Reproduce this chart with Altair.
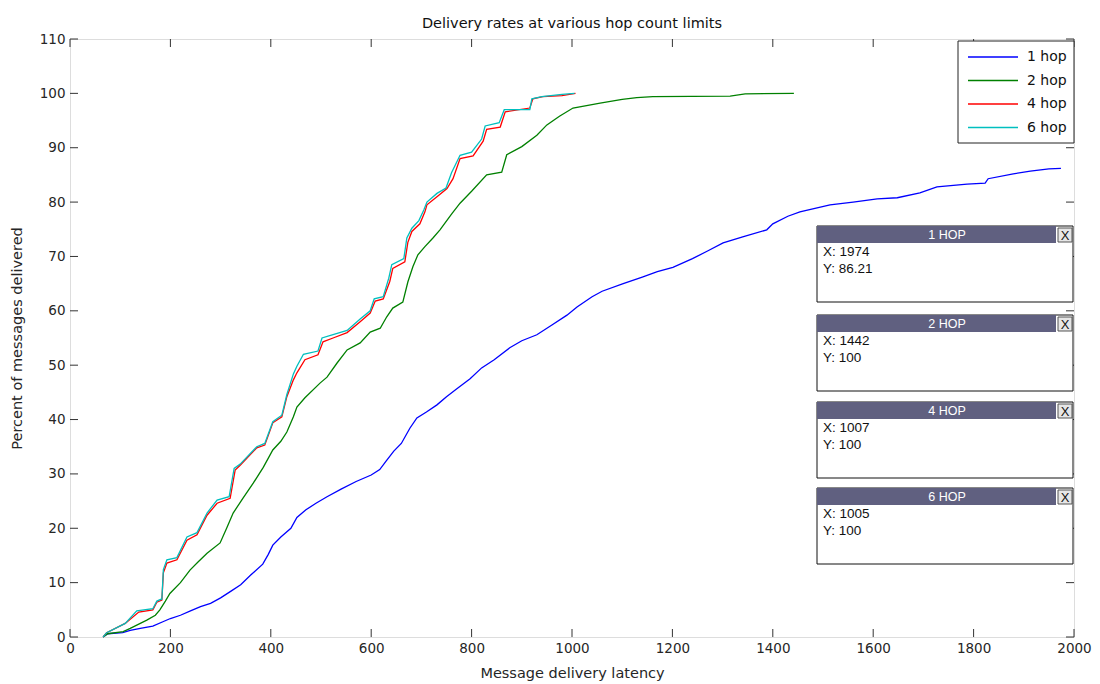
import altair as alt
import pandas as pd

# ---------------- data ----------------
series_names = ["1 hop", "2 hop", "4 hop", "6 hop"]
series_colors = ["#0000ff", "#008000", "#ff0000", "#00bfbf"]

hop1_x = [66, 75, 105, 120, 140, 165, 185, 200, 220, 240, 260, 280, 300, 320, 340, 360, 384, 395, 404,
          420, 440, 452, 470, 490, 512, 540, 570, 600, 617, 630, 645, 660, 677, 691, 710, 731, 750, 770,
          797, 820, 845, 876, 900, 930, 960, 990, 1010, 1040, 1060, 1102, 1140, 1170, 1201, 1240, 1270,
          1301, 1340, 1388, 1400, 1430, 1454, 1514, 1560, 1608, 1648, 1693, 1727, 1787, 1823, 1829, 1879,
          1913, 1950, 1974]
hop1_y = [0, 0.6, 0.8, 1.2, 1.6, 2.0, 2.8, 3.4, 4.0, 4.8, 5.6, 6.2, 7.2, 8.4, 9.6, 11.4, 13.4, 15.2, 16.9,
          18.4, 20.0, 22.0, 23.4, 24.6, 25.8, 27.2, 28.6, 29.8, 30.8, 32.4, 34.2, 35.6, 38.4, 40.3, 41.4,
          42.7, 44.2, 45.6, 47.5, 49.5, 51.0, 53.2, 54.5, 55.6, 57.4, 59.2, 60.7, 62.6, 63.6, 65.0, 66.2,
          67.2, 68.0, 69.6, 71.0, 72.5, 73.6, 74.9, 76.0, 77.4, 78.2, 79.5, 80.0, 80.6, 80.8, 81.7, 82.8,
          83.3, 83.5, 84.3, 85.2, 85.7, 86.1, 86.21]

hop2_x = [66, 75, 106, 120, 153, 170, 179, 190, 199, 220, 239, 255, 273, 299, 312, 325, 345, 365, 385,
          404, 420, 432, 445, 452, 468, 498, 512, 532, 552, 578, 598, 618, 631, 643, 663, 673, 683, 693,
          707, 723, 737, 760, 777, 800, 830, 860, 870, 900, 930, 950, 975, 1002, 1056, 1100, 1129, 1161,
          1315, 1345, 1442]
hop2_y = [0, 0.6, 1.0, 1.6, 3.1, 4.0, 5.0, 6.6, 8.0, 10.0, 12.3, 13.8, 15.4, 17.3, 20.0, 22.8, 25.6,
          28.3, 31.2, 34.4, 36.0, 37.7, 40.5, 42.3, 44.0, 46.7, 47.8, 50.4, 52.8, 54.1, 56.1, 56.8, 58.9,
          60.5, 61.6, 65.3, 68.1, 70.3, 71.8, 73.4, 74.9, 77.8, 79.8, 82.0, 85.0, 85.5, 88.7, 90.2, 92.3,
          94.2, 95.8, 97.3, 98.2, 98.9, 99.2, 99.4, 99.5, 99.9, 100]

hop4_x = [66, 73, 110, 137, 165, 173, 183, 186, 193, 213, 233, 253, 273, 293, 319, 329, 339, 372, 388,
          404, 422, 432, 445, 452, 468, 494, 504, 524, 552, 578, 598, 608, 624, 637, 643, 667, 673, 681,
          697, 707, 711, 731, 751, 763, 777, 803, 823, 830, 857, 867, 916, 922, 942, 980, 1007]
hop4_y = [0, 0.8, 2.5, 4.6, 5.0, 6.4, 6.8, 11.8, 13.6, 14.2, 17.8, 18.8, 22.4, 24.6, 25.5, 30.7, 31.6,
          34.8, 35.3, 39.4, 40.5, 44.2, 47.3, 48.6, 51.0, 51.9, 54.3, 55.0, 56.0, 58.0, 59.6, 61.8, 62.2,
          65.4, 67.8, 69.0, 72.6, 74.6, 76.0, 78.2, 79.5, 81.0, 82.5, 84.3, 88.0, 88.5, 91.2, 93.4, 93.8,
          96.6, 97.3, 99.0, 99.4, 99.6, 100]

hop6_x = [66, 73, 110, 133, 165, 173, 183, 186, 193, 213, 233, 253, 273, 293, 317, 327, 339, 372, 388,
          404, 422, 432, 445, 452, 465, 494, 502, 524, 552, 578, 598, 606, 624, 635, 641, 665, 671, 681,
          695, 705, 711, 731, 749, 760, 777, 800, 820, 827, 855, 865, 916, 920, 940, 980, 1005]
hop6_y = [0, 0.8, 2.5, 4.8, 5.2, 6.6, 7.0, 12.4, 14.2, 14.6, 18.4, 19.2, 22.8, 25.2, 25.8, 31.0, 31.8,
          35.0, 35.6, 39.6, 40.8, 44.6, 48.4, 49.8, 52.0, 52.6, 55.0, 55.6, 56.4, 58.5, 60.0, 62.2, 62.6,
          66.0, 68.5, 69.6, 73.4, 75.2, 76.6, 78.6, 80.0, 81.6, 82.6, 85.4, 88.6, 89.2, 91.6, 94.0, 94.6,
          97.0, 97.0, 99.0, 99.4, 99.8, 100]

x_ticks = list(range(0, 2001, 200))
y_ticks = list(range(0, 111, 10))

tip_titles = ["1 HOP", "2 HOP", "4 HOP", "6 HOP"]
tip_x = ["1974", "1442", "1007", "1005"]
tip_y = ["86.21", "100", "100", "100"]

# ---------------- layout / style ----------------
W, H = 1004, 598
FONT = "DejaVu Sans"
TIPFONT = "Liberation Sans"
TXT = "#262626"
xscale = alt.Scale(domain=[0, 2000], nice=False, zero=False)
yscale = alt.Scale(domain=[0, 110], nice=False, zero=False)

xaxis = alt.Axis(values=x_ticks, format="d", title="Message delivery latency", grid=False, ticks=False,
                 domain=False, labelFontSize=13.5, labelColor=TXT, labelFont=FONT, labelPadding=4,
                 titleFontSize=14.5, titleFont=FONT, titleColor=TXT, titleFontWeight="normal",
                 titlePadding=12, labelFlush=False)
yaxis = alt.Axis(values=y_ticks, format="d", title="Percent of messages delivered", grid=False, ticks=False,
                 domain=False, labelFontSize=13.5, labelColor=TXT, labelFont=FONT, labelPadding=5,
                 titleFontSize=14.5, titleFont=FONT, titleColor=TXT, titleFontWeight="normal",
                 titlePadding=15, labelFlush=False)

def X(field):
    return alt.X(f"{field}:Q", scale=xscale, axis=xaxis)

def Y(field):
    return alt.Y(f"{field}:Q", scale=yscale, axis=yaxis)

layers = []

# inward tick marks on all four sides (MATLAB style box)
xt = pd.DataFrame({"latency": x_ticks})
yt = pd.DataFrame({"pct": y_ticks})
TL = 8
layers.append(alt.Chart(xt).mark_rule(color="#333333", strokeWidth=1).encode(
    x=X("latency"), y=alt.value(H), y2=alt.value(H - TL)))
layers.append(alt.Chart(xt).mark_rule(color="#333333", strokeWidth=1).encode(
    x=X("latency"), y=alt.value(0), y2=alt.value(TL)))
layers.append(alt.Chart(yt).mark_rule(color="#333333", strokeWidth=1).encode(
    y=Y("pct"), x=alt.value(0), x2=alt.value(TL)))
layers.append(alt.Chart(yt).mark_rule(color="#333333", strokeWidth=1).encode(
    y=Y("pct"), x=alt.value(W), x2=alt.value(W - TL)))

# series
all_x = [hop1_x, hop2_x, hop4_x, hop6_x]
all_y = [hop1_y, hop2_y, hop4_y, hop6_y]
for name, col, xs, ys in zip(series_names, series_colors, all_x, all_y):
    d = pd.DataFrame({"latency": xs, "pct": ys, "series": name})
    layers.append(alt.Chart(d).mark_line(interpolate="linear", strokeWidth=1.3, color=col).encode(
        x=X("latency"), y=Y("pct")))

# legend (MATLAB style box, top-right)
one = pd.DataFrame({"k": [0]})
LX0, LX1, LY0, LY1 = 888, 1004, 2, 104
layers.append(alt.Chart(one).mark_rect(fill="white", stroke="#222222", strokeWidth=1).encode(
    x=alt.value(LX0), x2=alt.value(LX1), y=alt.value(LY0), y2=alt.value(LY1)))
for i, (name, col) in enumerate(zip(series_names, series_colors)):
    yy = 18 + i * 23.5
    ld = pd.DataFrame({"label": [name]})
    layers.append(alt.Chart(ld).mark_rule(color=col, strokeWidth=1.3).encode(
        x=alt.value(898), x2=alt.value(948), y=alt.value(yy)))
    layers.append(alt.Chart(ld).mark_text(align="left", baseline="middle", fontSize=14, font=FONT,
                                          color="#111111").encode(
        x=alt.value(957), y=alt.value(yy), text="label:N"))

# data tips
BX0, BX1 = 747, 1003
for i, (t, tx, ty) in enumerate(zip(tip_titles, tip_x, tip_y)):
    top = [187, 276, 363, 449][i]
    td = pd.DataFrame({"title": [t], "xl": ["X: " + tx], "yl": ["Y: " + ty]})
    layers.append(alt.Chart(td).mark_rect(fill="white", stroke="#111111", strokeWidth=1).encode(
        x=alt.value(BX0), x2=alt.value(BX1), y=alt.value(top), y2=alt.value(top + 76)))
    layers.append(alt.Chart(td).mark_rect(fill="#606080").encode(
        x=alt.value(BX0), x2=alt.value(BX1 - 17), y=alt.value(top), y2=alt.value(top + 17)))
    layers.append(alt.Chart(td).mark_rect(fill="#e6e6e6", stroke="#555555", strokeWidth=1).encode(
        x=alt.value(BX1 - 15), x2=alt.value(BX1 - 1), y=alt.value(top + 2), y2=alt.value(top + 16)))
    layers.append(alt.Chart(td).mark_text(align="center", baseline="middle", fontSize=13, font=TIPFONT,
                                          color="#111111").encode(
        x=alt.value(BX1 - 8), y=alt.value(top + 9.5), text=alt.value("X")))
    layers.append(alt.Chart(td).mark_text(align="center", baseline="middle", fontSize=12.5, font=TIPFONT,
                                          color="white").encode(
        x=alt.value(877), y=alt.value(top + 9), text="title:N"))
    layers.append(alt.Chart(td).mark_text(align="left", baseline="middle", fontSize=13.5, font=TIPFONT,
                                          color="#111111").encode(
        x=alt.value(BX0 + 6), y=alt.value(top + 26), text="xl:N"))
    layers.append(alt.Chart(td).mark_text(align="left", baseline="middle", fontSize=13.5, font=TIPFONT,
                                          color="#111111").encode(
        x=alt.value(BX0 + 6), y=alt.value(top + 43), text="yl:N"))

chart = alt.layer(*layers).properties(
    width=W, height=H,
    title=alt.TitleParams("Delivery rates at various hop count limits", fontSize=14.5, font=FONT,
                          fontWeight="normal", color="#111111", anchor="middle", offset=1),
    autosize=alt.AutoSizeParams(type="none"),
    padding={"left": 62, "top": 31, "right": 18, "bottom": 46},
).configure_view(stroke="#333333", strokeWidth=1).configure(background="white")

chart.save("out.html", embed_options={"renderer": "svg", "actions": False})
